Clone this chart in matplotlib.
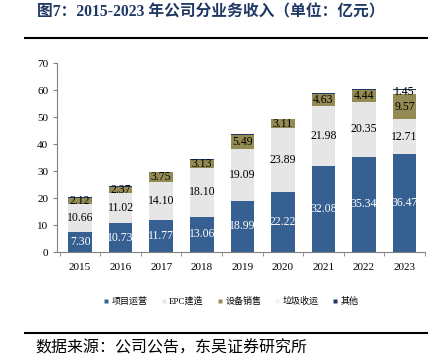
import matplotlib
matplotlib.use("Agg")
import matplotlib.pyplot as plt
import numpy as np
from matplotlib.lines import Line2D

plt.rcParams['font.family'] = ['Liberation Serif', 'Noto Sans CJK SC']

years = ['2015', '2016', '2017', '2018', '2019', '2020', '2021', '2022', '2023']
series_names = ['项目运营', 'EPC建造', '设备销售', '垃圾收运', '其他']
xmyy = [7.30, 10.73, 11.77, 13.06, 18.99, 22.22, 32.08, 35.34, 36.47]
epc = [10.66, 11.02, 14.10, 18.10, 19.09, 23.89, 21.98, 20.35, 12.71]
sbxs = [2.12, 2.37, 3.75, 3.13, 5.49, 3.11, 4.63, 4.44, 9.57]
ljsy = [0, 0, 0, 0, 0, 0, 0, 0, 1.45]
qita = [0.2, 0.2, 0.2, 0.2, 0.2, 0.2, 0.25, 0.25, 0.3]

colors = ['#376092', '#e6e6e6', '#948a54', '#f2f2f2', '#1f3864']
label_colors = ['white', 'black', 'black', 'black', None]

fig = plt.figure(figsize=(4.38, 3.6), dpi=100)
ax = fig.add_axes([0.131, 0.30, 0.839, 0.524])

x = np.arange(len(years))
data = [xmyy, epc, sbxs, ljsy, qita]
bottom = np.zeros(len(years))
for i, vals in enumerate(data):
    vals = np.array(vals)
    ax.bar(x, vals, 0.58, bottom=bottom, color=colors[i], edgecolor='none', zorder=2)
    if label_colors[i] is not None:
        for xi, v, b in zip(x, vals, bottom):
            if v > 0:
                ax.text(xi, b + v / 2, f'{v:.2f}', ha='center', va='center',
                        fontsize=8.5, color=label_colors[i], zorder=3)
    bottom += vals

ax.set_ylim(0, 70)
ax.set_yticks(range(0, 71, 10))
ax.set_xlim(-0.56, 8.5)
ax.set_xticks(x)
ax.set_xticklabels(years)
ax.tick_params(axis='x', length=0, labelsize=8, pad=8)
ax.tick_params(axis='y', length=3, labelsize=8, color='#808080', direction='out')
ax.set_xticks(np.arange(-0.5, 8.6, 1), minor=True)
ax.tick_params(axis='x', which='minor', length=3, color='#808080', direction='out')
for s in ['top', 'right']:
    ax.spines[s].set_visible(False)
for s in ['left', 'bottom']:
    ax.spines[s].set_color('#808080')
    ax.spines[s].set_linewidth(0.8)

handles = [Line2D([0], [0], marker='s', linestyle='none', markersize=3.5,
                  markerfacecolor=c, markeredgecolor='none') for c in colors]
fig.legend(handles, series_names, loc='center', bbox_to_anchor=(0.525, 0.163), ncol=5,
           frameon=False, fontsize=6.5, handletextpad=0.1, columnspacing=1.3,
           handlelength=1.0)

fig.text(0.085, 0.966, '图7：2015-2023 年公司分业务收入（单位：亿元）', fontsize=11.3,
         fontweight='bold', color='#1f3864', va='center', ha='left',
         family=['Liberation Serif', 'Noto Sans CJK SC'])
fig.add_artist(Line2D([0.057, 0.975], [0.894, 0.894], color='black', linewidth=1.5,
                      transform=fig.transFigure))
fig.add_artist(Line2D([0.057, 0.975], [0.075, 0.075], color='black', linewidth=1.5,
                      transform=fig.transFigure))
fig.text(0.08, 0.032, '数据来源：公司公告，东吴证券研究所', fontsize=11.5,
         color='black', va='center', ha='left', family=['Noto Sans CJK SC'])

fig.savefig('out.png', dpi=100)
